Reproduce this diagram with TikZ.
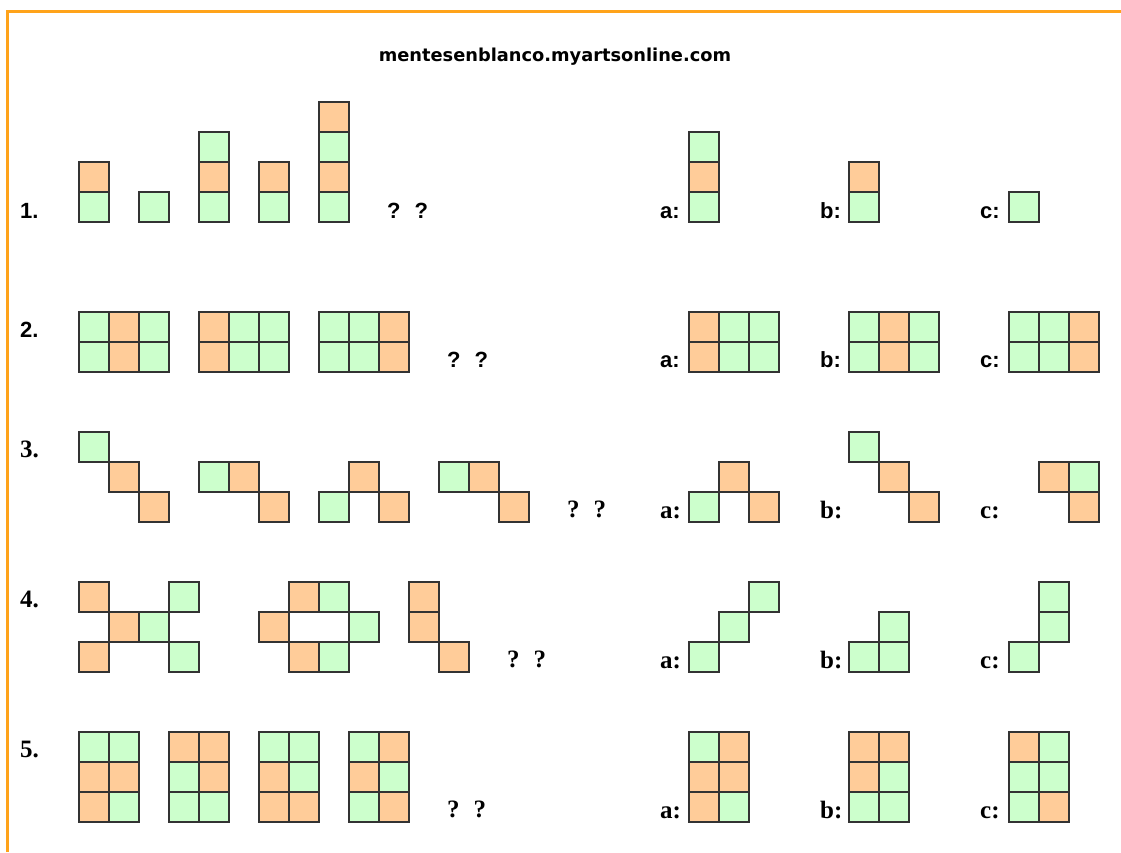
\documentclass[tikz,border=0pt]{standalone}
\usepackage{fontspec}
\setmainfont{Liberation Serif}
\setsansfont{Liberation Sans}
\newfontfamily\webfont{DejaVu Sans}

\definecolor{verde}{RGB}{204,255,204}
\definecolor{naranja}{RGB}{255,204,153}
\definecolor{marco}{RGB}{255,163,26}

\newcommand{\preguntas}{?\hspace{14pt}?}

\tikzset{
  gcell/.style={fill=verde, draw=black!80, line width=1.5pt},
  ocell/.style={fill=naranja, draw=black!80, line width=1.5pt},
  rotsans/.style={anchor=base west, inner sep=0pt, font=\sffamily\bfseries\fontsize{22}{22}\selectfont},
  rotserif/.style={anchor=base west, inner sep=0pt, font=\rmfamily\bfseries\fontsize{25}{25}\selectfont},
}

\begin{document}
\begin{tikzpicture}[x=1pt, y=-1pt]
    \useasboundingbox (0,0) rectangle (1121,852);
    % marco
    \draw[marco, line width=3pt] (7.5,852) -- (7.5,11) -- (1121,11);
    \node[font=\webfont\bfseries\fontsize{17.8}{18}\selectfont, inner sep=0pt] (web) at (555,57) {mentesenblanco.myartsonline.com};

    % serie 1
    \foreach \x/\y/\c in {79/162/o, 79/192/g, 139/192/g, 199/132/g, 199/162/o, 199/192/g,
        259/162/o, 259/192/g, 319/102/o, 319/132/g, 319/162/o, 319/192/g,
        689/132/g, 689/162/o, 689/192/g, 849/162/o, 849/192/g, 1009/192/g}
        \draw[\c cell] (\x,\y) rectangle ++(30,30);
    \node[rotsans] (n1) at (20,218) {1.};
    \node[rotsans] (q1) at (387,218) {\preguntas};
    \node[rotsans] (a1) at (660,218) {a:};
    \node[rotsans] (b1) at (820,218) {b:};
    \node[rotsans] (c1) at (980,218) {c:};

    % serie 2
    \foreach \x/\ca/\cb/\cc in {79/g/o/g, 199/o/g/g, 319/g/g/o, 689/o/g/g, 849/g/o/g, 1009/g/g/o}
        \foreach \y in {312,342} {
            \draw[\ca cell] (\x,\y) rectangle ++(30,30);
            \draw[\cb cell] (\x+30,\y) rectangle ++(30,30);
            \draw[\cc cell] (\x+60,\y) rectangle ++(30,30);
        }
    \node[rotsans] (n2) at (20,337) {2.};
    \node[rotsans] (q2) at (447,367) {\preguntas};
    \node[rotsans] (a2) at (660,367) {a:};
    \node[rotsans] (b2) at (820,367) {b:};
    \node[rotsans] (c2) at (980,367) {c:};

    % serie 3
    \foreach \x/\y/\c in {79/432/g, 109/462/o, 139/492/o, 199/462/g, 229/462/o, 259/492/o,
        349/462/o, 319/492/g, 379/492/o, 439/462/g, 469/462/o, 499/492/o,
        689/492/g, 719/462/o, 749/492/o, 849/432/g, 879/462/o, 909/492/o,
        1039/462/o, 1069/462/g, 1069/492/o}
        \draw[\c cell] (\x,\y) rectangle ++(30,30);
    \node[rotserif] (n3) at (20,457) {3.};
    \node[rotserif] (q3) at (567,517) {\preguntas};
    \node[rotserif] (a3) at (660,518) {a:};
    \node[rotserif] (b3) at (820,518) {b:};
    \node[rotserif] (c3) at (980,518) {c:};

    % serie 4
    \foreach \x/\y/\c in {79/582/o, 169/582/g, 109/612/o, 139/612/g, 79/642/o, 169/642/g,
        289/582/o, 319/582/g, 259/612/o, 349/612/g, 289/642/o, 319/642/g,
        409/582/o, 409/612/o, 439/642/o,
        689/642/g, 719/612/g, 749/582/g, 849/642/g, 879/642/g, 879/612/g,
        1009/642/g, 1039/612/g, 1039/582/g}
        \draw[\c cell] (\x,\y) rectangle ++(30,30);
    \node[rotserif] (n4) at (20,607) {4.};
    \node[rotserif] (q4) at (507,667) {\preguntas};
    \node[rotserif] (a4) at (660,668) {a:};
    \node[rotserif] (b4) at (820,668) {b:};
    \node[rotserif] (c4) at (980,668) {c:};

    % serie 5
    \foreach \x/\pa/\pb/\pc/\pd/\pe/\pf in {79/g/g/o/o/o/g, 169/o/o/g/o/g/g, 259/g/g/o/g/o/o,
        349/g/o/o/g/g/o, 689/g/o/o/o/o/g, 849/o/o/o/g/g/g, 1009/o/g/g/g/g/o} {
        \draw[\pa cell] (\x,732) rectangle ++(30,30);
        \draw[\pb cell] (\x+30,732) rectangle ++(30,30);
        \draw[\pc cell] (\x,762) rectangle ++(30,30);
        \draw[\pd cell] (\x+30,762) rectangle ++(30,30);
        \draw[\pe cell] (\x,792) rectangle ++(30,30);
        \draw[\pf cell] (\x+30,792) rectangle ++(30,30);
    }
    \node[rotserif] (n5) at (20,757) {5.};
    \node[rotserif] (q5) at (447,817) {\preguntas};
    \node[rotserif] (a5) at (660,818) {a:};
    \node[rotserif] (b5) at (820,818) {b:};
    \node[rotserif] (c5) at (980,818) {c:};
\end{tikzpicture}
\end{document}
